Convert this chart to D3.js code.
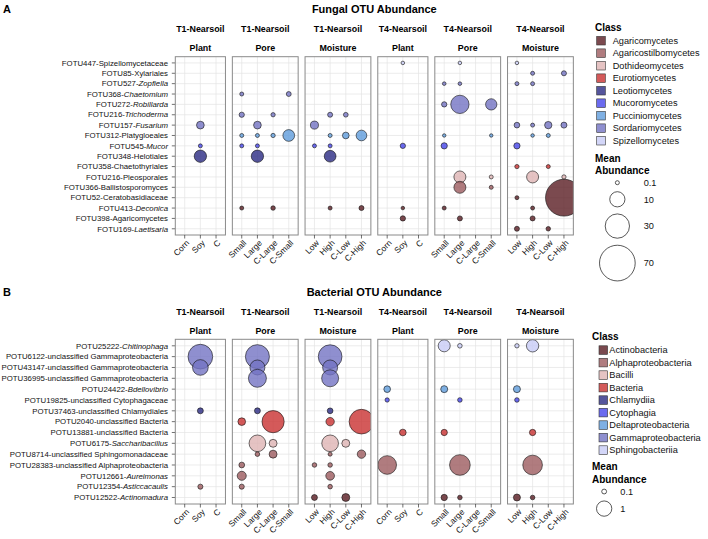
<!DOCTYPE html>
<meta charset="utf-8">
<style>
body { margin: 0; background: #fff; }
text { font-family: "Liberation Sans", Arial, Helvetica, sans-serif; }
</style>
<svg width="708" height="539"></svg>
<script src="https://d3js.org/d3.v7.min.js"></script>
<script>

// facet columns
var treatments = ["T1-Nearsoil", "T1-Nearsoil", "T1-Nearsoil", "T4-Nearsoil", "T4-Nearsoil", "T4-Nearsoil"];
var experiments = ["Plant", "Pore", "Moisture", "Plant", "Pore", "Moisture"];
var plantLevels = ["Corn", "Soy", "C"];
var poreLevels = ["Small", "Large", "C-Large", "C-Small"];
var moistureLevels = ["Low", "High", "C-Low", "C-High"];

// rows: [otu id, taxon, italic?]
var fungalRows = [
  ["FOTU447-", "Spizellomycetaceae", false],
  ["FOTU85-", "Xylariales", false],
  ["FOTU527-", "Zopfiella", true],
  ["FOTU368-", "Chaetomium", true],
  ["FOTU272-", "Robillarda", true],
  ["FOTU216-", "Trichoderma", true],
  ["FOTU157-", "Fusarium", true],
  ["FOTU312-", "Platygloeales", false],
  ["FOTU545-", "Mucor", true],
  ["FOTU348-", "Helotiales", false],
  ["FOTU358-", "Chaetothyriales", false],
  ["FOTU216-", "Pleosporales", false],
  ["FOTU366-", "Ballistosporomyces", false],
  ["FOTU52-", "Ceratobasidiaceae", false],
  ["FOTU413-", "Deconica", true],
  ["FOTU398-", "Agaricomycetes", false],
  ["FOTU169-", "Laetisaria", true]
];
var fungalClasses = ["Agaricomycetes", "Agaricostilbomycetes", "Dothideomycetes", "Eurotiomycetes",
  "Leotiomycetes", "Mucoromycetes", "Pucciniomycetes", "Sordariomycetes", "Spizellomycetes"];
var fungalRowClass = ["Spizellomycetes", "Sordariomycetes", "Sordariomycetes", "Sordariomycetes",
  "Sordariomycetes", "Sordariomycetes", "Sordariomycetes", "Pucciniomycetes", "Mucoromycetes",
  "Leotiomycetes", "Eurotiomycetes", "Dothideomycetes", "Agaricostilbomycetes", "Agaricomycetes",
  "Agaricomycetes", "Agaricomycetes", "Agaricomycetes"];

var bacterialRows = [
  ["POTU25222-", "Chitinophaga", true],
  ["POTU6122-", "unclassified Gammaproteobacteria", false],
  ["POTU43147-", "unclassified Gammaproteobacteria", false],
  ["POTU36995-", "unclassified Gammaproteobacteria", false],
  ["POTU24422-", "Bdellovibrio", true],
  ["POTU19825-", "unclassified Cytophagaceae", false],
  ["POTU37463-", "unclassified Chlamydiales", false],
  ["POTU2040-", "unclassified Bacteria", false],
  ["POTU13881-", "unclassified Bacteria", false],
  ["POTU6175-", "Saccharibacillus", true],
  ["POTU8714-", "unclassified Sphingomonadaceae", false],
  ["POTU28383-", "unclassified Alphaproteobacteria", false],
  ["POTU12661-", "Aureimonas", true],
  ["POTU12354-", "Asticcacaulis", true],
  ["POTU12522-", "Actinomadura", true]
];
var bacterialClasses = ["Actinobacteria", "Alphaproteobacteria", "Bacilli", "Bacteria", "Chlamydiia",
  "Cytophagia", "Deltaproteobacteria", "Gammaproteobacteria", "Sphingobacteriia"];
var bacterialRowClass = ["Sphingobacteriia", "Gammaproteobacteria", "Gammaproteobacteria",
  "Gammaproteobacteria", "Deltaproteobacteria", "Cytophagia", "Chlamydiia", "Bacteria", "Bacteria",
  "Bacilli", "Alphaproteobacteria", "Alphaproteobacteria", "Alphaproteobacteria",
  "Alphaproteobacteria", "Actinobacteria"];

var classColors = ["#5a1d23", "#9c5b5f", "#dfb4b4", "#c93131", "#2a2a83",
  "#4646eb", "#5f9cdc", "#7373c3", "#c8ccf6"];

// mean abundance: [row, level, value]
var fungalT1Plant = [[6, "Soy", 1.6], [8, "Soy", 0.1], [9, "Soy", 5.9]];
var fungalT1Pore = [[3, "Small", 0.1], [3, "C-Small", 0.3], [5, "Small", 0.4], [5, "C-Large", 0.15],
  [6, "Large", 1.6], [7, "Small", 0.1], [7, "Large", 0.1], [7, "C-Large", 0.15], [7, "C-Small", 5.2],
  [8, "Small", 0.1], [8, "Large", 0.1], [9, "Large", 5.9], [14, "Small", 0.1], [14, "C-Large", 0.2]];
var fungalT1Moisture = [[5, "High", 0.33], [5, "C-Low", 0.25], [6, "Low", 1.8], [7, "High", 0.1],
  [7, "C-Low", 1.0], [7, "C-High", 4], [8, "Low", 0.1], [8, "High", 0.1], [9, "High", 5.2],
  [14, "High", 0.1], [14, "C-High", 0.33]];
var fungalT4Plant = [[0, "Soy", 0.04], [8, "Soy", 0.42], [14, "Soy", 0.04], [15, "Soy", 0.42]];
var fungalT4Pore = [[0, "Large", 0.04], [2, "Small", 0.05], [2, "Large", 0.05], [4, "Small", 0.42],
  [4, "Large", 15.6], [4, "C-Small", 4.7], [7, "Small", 0.03], [7, "C-Small", 0.03], [8, "Small", 0.8],
  [11, "Large", 5.5], [11, "C-Small", 0.1], [12, "Large", 5.5], [12, "C-Small", 0.1],
  [14, "Small", 0.1], [15, "Large", 0.33]];
var fungalT4Moisture = [[0, "Low", 0.04], [1, "High", 0.1], [1, "C-High", 0.33], [2, "Low", 0.1],
  [2, "High", 0.1], [6, "Low", 0.55], [6, "High", 0.1], [6, "C-Low", 1.35], [6, "C-High", 0.68],
  [7, "High", 0.04], [7, "C-Low", 0.1], [8, "Low", 0.8], [10, "Low", 0.15], [10, "C-Low", 0.1],
  [11, "High", 5.5], [11, "C-High", 0.15], [13, "Low", 0.1], [13, "C-High", 75], [14, "High", 0.1],
  [15, "High", 0.33], [16, "Low", 0.33], [16, "C-Low", 0.2]];

var bactT1Plant = [[1, "Soy", 2.6], [2, "Soy", 1.05], [6, "Soy", 0.15], [13, "Soy", 0.11]];
var bactT1Pore = [[1, "Large", 2.46], [2, "Large", 0.96], [3, "Large", 1.38], [6, "Large", 0.15],
  [7, "Small", 0.25], [7, "C-Large", 2.1], [9, "Large", 1.19], [9, "C-Large", 0.27],
  [10, "Large", 0.09], [10, "C-Large", 0.27], [11, "Small", 0.14], [12, "Small", 0.35],
  [13, "Small", 0.11]];
var bactT1Moisture = [[1, "High", 2.4], [2, "High", 0.96], [3, "High", 1.23], [6, "High", 0.14],
  [7, "High", 0.3], [7, "C-High", 2.6], [9, "High", 1.19], [9, "C-Low", 0.27], [10, "High", 0.07],
  [10, "C-High", 0.3], [11, "Low", 0.09], [11, "High", 0.09], [12, "High", 0.32], [13, "High", 0.09],
  [14, "Low", 0.15], [14, "C-Low", 0.27]];
var bactT4Plant = [[4, "Corn", 0.19], [5, "Corn", 0.08], [8, "Soy", 0.19], [11, "Corn", 1.49]];
var bactT4Pore = [[0, "Small", 0.62], [0, "Large", 0.09], [4, "Small", 0.21], [5, "Large", 0.09],
  [8, "Small", 0.17], [11, "Large", 1.83], [14, "Small", 0.17], [14, "Large", 0.09]];
var bactT4Moisture = [[0, "Low", 0.08], [0, "High", 0.65], [4, "Low", 0.21], [5, "Low", 0.09],
  [8, "High", 0.17], [11, "High", 1.65], [14, "Low", 0.21], [14, "High", 0.09]];

var fungalSizeBreaks = [0.1, 10, 30, 70];
var bactSizeBreaks = [0.1, 1];


var svg = d3.select("svg");

// columns share the same x layout in both blocks
var step = 15.67, gap = 6.9, left = 175.3;
var levelsByPanel = [plantLevels, poreLevels, moistureLevels, plantLevels, poreLevels, moistureLevels];
var panels = [];
var xpos = left;
levelsByPanel.forEach(function(lv) {
  var w = (lv.length + 0.2) * step;
  panels.push({x0: xpos, x1: xpos + w, levels: lv,
    x: d3.scalePoint().domain(lv).range([xpos, xpos + w]).padding(0.6)});
  xpos += w + gap;
});
var plotMid = (panels[0].x0 + panels[5].x1) / 2;

var clipId = 0;

function drawBlock(c) {
  var g = svg.append("g");

  g.append("text").attr("x", 3).attr("y", c.labelY).attr("dy", "0.35em")
    .attr("font-size", 11).attr("font-weight", "bold").text(c.letter);
  g.append("text").attr("x", plotMid).attr("y", c.labelY).attr("dy", "0.35em")
    .attr("text-anchor", "middle").attr("font-size", 11).attr("font-weight", "bold").text(c.title);

  var y = d3.scalePoint().domain(d3.range(c.rows.length)).range([c.top, c.bottom]).padding(0.6);

  // y axis labels + ticks
  c.rows.forEach(function(r, i) {
    var t = g.append("text").attr("x", left - 7.3).attr("y", y(i)).attr("dy", "0.35em")
      .attr("text-anchor", "end").attr("font-size", 7.8).attr("fill", "#111");
    t.append("tspan").text(r[0]);
    t.append("tspan").attr("font-style", r[2] ? "italic" : "normal").text(r[1]);
    g.append("line").attr("x1", left - 3.5).attr("x2", left).attr("y1", y(i)).attr("y2", y(i))
      .attr("stroke", "#333").attr("stroke-width", 0.7);
  });

  panels.forEach(function(p, pi) {
    var pg = g.append("g");
    var mid = (p.x0 + p.x1) / 2;
    pg.append("text").attr("x", mid).attr("y", c.strip1).attr("dy", "0.35em").attr("text-anchor", "middle")
      .attr("font-size", 8.9).attr("font-weight", "bold").text(treatments[pi]);
    pg.append("text").attr("x", mid).attr("y", c.strip2).attr("dy", "0.35em").attr("text-anchor", "middle")
      .attr("font-size", 8.9).attr("font-weight", "bold").text(experiments[pi]);

    pg.append("rect").attr("x", p.x0).attr("y", c.top).attr("width", p.x1 - p.x0)
      .attr("height", c.bottom - c.top).attr("fill", "#fff");

    // grid
    pg.selectAll(".hg").data(y.domain()).enter().append("line")
      .attr("x1", p.x0).attr("x2", p.x1).attr("y1", function(d) { return y(d); })
      .attr("y2", function(d) { return y(d); }).attr("stroke", "#e4e4e4").attr("stroke-width", 0.7);
    pg.selectAll(".vg").data(p.levels).enter().append("line")
      .attr("y1", c.top).attr("y2", c.bottom).attr("x1", function(d) { return p.x(d); })
      .attr("x2", function(d) { return p.x(d); }).attr("stroke", "#e4e4e4").attr("stroke-width", 0.7);

    // points, clipped to the panel
    var id = "clip" + (clipId++);
    svg.append("clipPath").attr("id", id).append("rect")
      .attr("x", p.x0).attr("y", c.top).attr("width", p.x1 - p.x0).attr("height", c.bottom - c.top);
    pg.append("g").attr("clip-path", "url(#" + id + ")")
      .selectAll("circle").data(c.data[pi]).enter().append("circle")
      .attr("cx", function(d) { return p.x(d[1]); })
      .attr("cy", function(d) { return y(d[0]); })
      .attr("r", function(d) { return c.size(d[2]); })
      .attr("fill", function(d) { return c.color(c.rowClass[d[0]]); })
      .attr("fill-opacity", 0.8)
      .attr("stroke", "#111").attr("stroke-width", 0.6);

    pg.append("rect").attr("x", p.x0).attr("y", c.top).attr("width", p.x1 - p.x0)
      .attr("height", c.bottom - c.top).attr("fill", "none").attr("stroke", "#8a8a8a").attr("stroke-width", 1);

    // x ticks + labels
    p.levels.forEach(function(lv) {
      pg.append("line").attr("x1", p.x(lv)).attr("x2", p.x(lv)).attr("y1", c.bottom).attr("y2", c.bottom + 3.5)
        .attr("stroke", "#333").attr("stroke-width", 0.7);
      pg.append("text").attr("transform", "translate(" + (p.x(lv) + 1.5) + "," + (c.bottom + 5) + ") rotate(-45)")
        .attr("dy", "0.6em").attr("text-anchor", "end").attr("font-size", 8.4).attr("fill", "#111").text(lv);
    });
  });

  // class legend
  var lg = g.append("g");
  lg.append("text").attr("x", c.lx).attr("y", c.classY).attr("dy", "0.35em")
    .attr("font-size", 10).attr("font-weight", "bold").text("Class");
  c.classes.forEach(function(cl, i) {
    var cy = c.classY + 13.4 + i * 12.5;
    lg.append("rect").attr("x", c.keyX).attr("y", cy - 4.3).attr("width", 8.6).attr("height", 8.6)
      .attr("fill", c.color(cl)).attr("fill-opacity", 0.8).attr("stroke", "#333").attr("stroke-width", 0.6);
    lg.append("text").attr("x", c.keyLabelX).attr("y", cy).attr("dy", "0.35em")
      .attr("font-size", 9.2).attr("fill", "#111").text(cl);
  });

  // size legend
  lg.append("text").attr("x", c.lx).attr("y", c.sizeY).attr("dy", "0.35em")
    .attr("font-size", 10).attr("font-weight", "bold").text("Mean");
  lg.append("text").attr("x", c.lx).attr("y", c.sizeY + 12.4).attr("dy", "0.35em")
    .attr("font-size", 10).attr("font-weight", "bold").text("Abundance");
  var maxD = 2 * c.size(c.breaks[c.breaks.length - 1]);
  var keyW = maxD + 7;
  var cy = c.sizeY + 12.4 + 6.5;
  c.breaks.forEach(function(b, i) {
    var d = 2 * c.size(b);
    cy += (i === 0 ? (d + 7) / 2 : 0);
    lg.append("circle").attr("cx", c.lx + keyW / 2 + 1).attr("cy", cy).attr("r", c.size(b))
      .attr("fill", "none").attr("stroke", "#111").attr("stroke-width", 0.7);
    lg.append("text").attr("x", c.lx + keyW + 6).attr("y", cy).attr("dy", "0.35em")
      .attr("font-size", 9.2).attr("fill", "#111").text(b);
    if (i < c.breaks.length - 1) cy += (d + 7) / 2 + (2 * c.size(c.breaks[i + 1]) + 7) / 2;
  });
}

drawBlock({
  letter: "A", title: "Fungal OTU Abundance", labelY: 8.8,
  strip1: 29.3, strip2: 47.7, top: 56.7, bottom: 235,
  rows: fungalRows, rowClass: fungalRowClass, classes: fungalClasses,
  color: d3.scaleOrdinal().domain(fungalClasses).range(classColors),
  size: d3.scalePow().exponent(0.5).domain([0.1, 70]).range([2, 17.85]),
  data: [fungalT1Plant, fungalT1Pore, fungalT1Moisture, fungalT4Plant, fungalT4Pore, fungalT4Moisture],
  breaks: fungalSizeBreaks,
  lx: 595, classY: 27.3, keyX: 596.7, keyLabelX: 612.7, sizeY: 158.3
});

drawBlock({
  letter: "B", title: "Bacterial OTU Abundance", labelY: 291.7,
  strip1: 311.7, strip2: 330.7, top: 339.3, bottom: 504,
  rows: bacterialRows, rowClass: bacterialRowClass, classes: bacterialClasses,
  color: d3.scaleOrdinal().domain(bacterialClasses).range(classColors),
  size: d3.scaleSqrt().domain([0, 1]).range([0, 7.65]),
  data: [bactT1Plant, bactT1Pore, bactT1Moisture, bactT4Plant, bactT4Pore, bactT4Moisture],
  breaks: bactSizeBreaks,
  lx: 592, classY: 336.7, keyX: 599, keyLabelX: 609.3, sizeY: 466.7
});

</script>
